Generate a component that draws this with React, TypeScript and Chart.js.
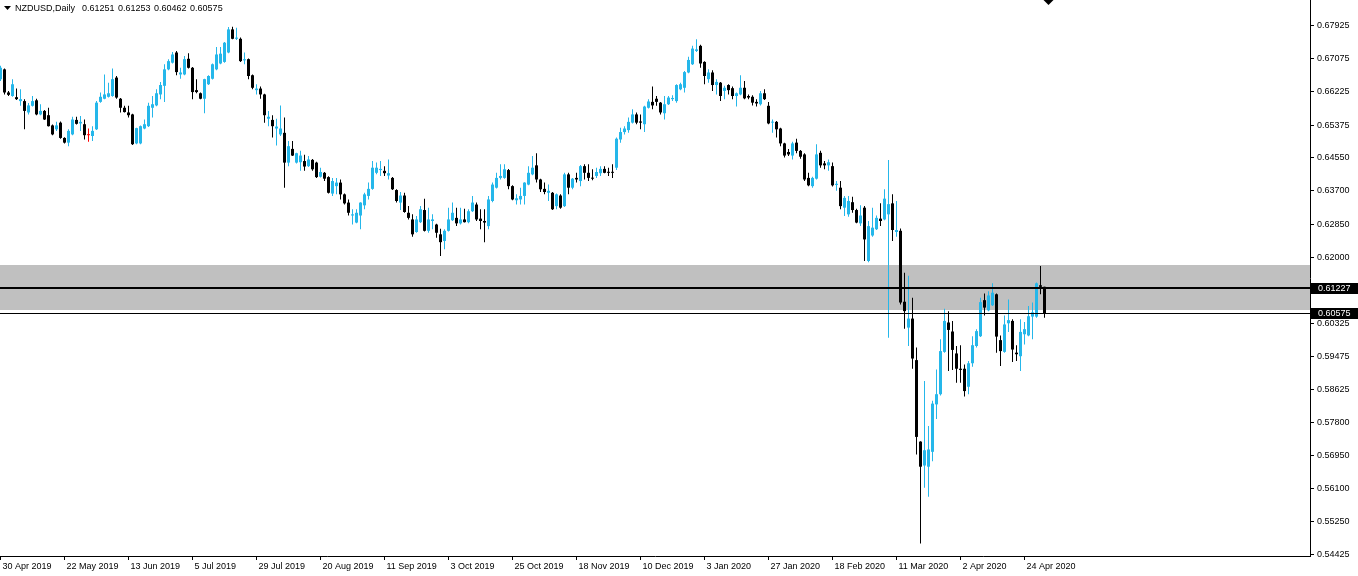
import React, { useEffect, useRef } from 'react';
import { Chart, registerables } from 'chart.js';

Chart.register(...registerables);

const symbolTitle = 'NZDUSD,Daily';
const lastQuote = ['0.61251', '0.61253', '0.60462', '0.60575'];

const dateLabels = [
  '30 Apr 2019', '22 May 2019', '13 Jun 2019', '5 Jul 2019', '29 Jul 2019', '20 Aug 2019',
  '11 Sep 2019', '3 Oct 2019', '25 Oct 2019', '18 Nov 2019', '10 Dec 2019', '3 Jan 2020',
  '27 Jan 2020', '18 Feb 2020', '11 Mar 2020', '2 Apr 2020', '24 Apr 2020',
];
const barsPerDateLabel = 16;

const priceTicks = [
  0.67925, 0.67075, 0.66225, 0.65375, 0.6455, 0.637, 0.6285, 0.62,
  0.60325, 0.59475, 0.58625, 0.578, 0.5695, 0.561, 0.5525, 0.54425,
];

const opens = [
  0.6655,0.6680,0.6621,0.6612,0.6609,0.6599,0.6599,0.6570,0.6587,0.6601,
  0.6565,0.6574,0.6563,0.6537,0.6527,0.6544,0.6505,0.6493,0.6514,0.6551,
  0.6542,0.6540,0.6512,0.6510,0.6527,0.6597,0.6605,0.6610,0.6612,0.6659,
  0.6605,0.6582,0.6570,0.6565,0.6491,0.6491,0.6529,0.6535,0.6582,0.6588,
  0.6616,0.6638,0.6680,0.6697,0.6723,0.6667,0.6667,0.6707,0.6684,0.6627,
  0.6619,0.6605,0.6642,0.6656,0.6680,0.6695,0.6699,0.6723,0.6782,0.6758,
  0.6758,0.6703,0.6706,0.6665,0.6627,0.6631,0.6616,0.6554,0.6551,0.6529,
  0.6514,0.6518,0.6442,0.6477,0.6442,0.6443,0.6446,0.6433,0.6449,0.6442,
  0.6406,0.6416,0.6405,0.6363,0.6382,0.6391,0.6361,0.6340,0.6307,0.6289,
  0.6307,0.6333,0.6357,0.6375,0.6416,0.6423,0.6421,0.6409,0.6403,0.6372,
  0.6340,0.6358,0.6314,0.6297,0.6265,0.6290,0.6321,0.6268,0.6293,0.6284,
  0.6259,0.6242,0.6268,0.6295,0.6301,0.6287,0.6297,0.6290,0.6318,0.6335,
  0.6299,0.6293,0.6280,0.6344,0.6378,0.6403,0.6403,0.6423,0.6382,0.6346,
  0.6348,0.6357,0.6386,0.6412,0.6435,0.6399,0.6375,0.6365,0.6365,0.6331,
  0.6358,0.6331,0.6412,0.6378,0.6403,0.6395,0.6433,0.6416,0.6403,0.6408,
  0.6415,0.6426,0.6418,0.6418,0.6429,0.6501,0.6520,0.6525,0.6544,0.6565,
  0.6547,0.6540,0.6582,0.6597,0.6605,0.6595,0.6568,0.6591,0.6604,0.6599,
  0.6629,0.6633,0.6672,0.6693,0.6727,0.6740,0.6699,0.6655,0.6672,0.6640,
  0.6646,0.6625,0.6640,0.6632,0.6612,0.6616,0.6633,0.6612,0.6610,0.6597,
  0.6591,0.6619,0.6587,0.6544,0.6546,0.6529,0.6491,0.6469,0.6460,0.6493,
  0.6472,0.6463,0.6403,0.6382,0.6401,0.6467,0.6440,0.6435,0.6433,0.6385,
  0.6378,0.6327,0.6310,0.6341,0.6321,0.6287,0.6327,0.6191,0.6256,0.6272,
  0.6299,0.6297,0.6310,0.6338,0.6265,0.6268,0.6087,0.6021,0.6044,0.5938,
  0.5730,0.5669,0.5666,0.5704,0.5825,0.5851,0.5959,0.6034,0.6011,0.5955,
  0.5916,0.5916,0.5870,0.5930,0.5974,0.5999,0.6091,0.6065,0.6078,0.6106,
  0.5989,0.5959,0.6032,0.6038,0.5957,0.5948,0.6004,0.6001,0.6049,0.6049,
  0.6129,0.61251,
];

const highs = [
  0.6689,0.6682,0.6625,0.6655,0.6631,0.6629,0.6604,0.6594,0.6612,0.6605,
  0.6591,0.6576,0.6582,0.6539,0.6546,0.6547,0.6507,0.6527,0.6559,0.6559,
  0.6561,0.6552,0.6529,0.6535,0.6599,0.6621,0.6667,0.6646,0.6682,0.6663,
  0.6607,0.6587,0.6587,0.6567,0.6531,0.6537,0.6552,0.6595,0.6612,0.6629,
  0.6648,0.6693,0.6706,0.6724,0.6727,0.6684,0.6714,0.6721,0.6686,0.6655,
  0.6621,0.6656,0.6665,0.6695,0.6737,0.6737,0.6750,0.6788,0.6789,0.6786,
  0.6761,0.6723,0.6708,0.6667,0.6642,0.6636,0.6618,0.6574,0.6563,0.6554,
  0.6588,0.6557,0.6497,0.6497,0.6467,0.6472,0.6462,0.6459,0.6451,0.6444,
  0.6429,0.6418,0.6407,0.6403,0.6403,0.6399,0.6363,0.6348,0.6323,0.6323,
  0.6341,0.6365,0.6391,0.6446,0.6442,0.6446,0.6433,0.6450,0.6405,0.6374,
  0.6367,0.6365,0.6331,0.6310,0.6306,0.6331,0.6350,0.6327,0.6310,0.6286,
  0.6273,0.6272,0.6327,0.6340,0.6327,0.6327,0.6324,0.6323,0.6357,0.6340,
  0.6323,0.6323,0.6357,0.6391,0.6416,0.6438,0.6438,0.6426,0.6384,0.6361,
  0.6378,0.6392,0.6433,0.6459,0.6466,0.6401,0.6391,0.6386,0.6367,0.6363,
  0.6361,0.6416,0.6416,0.6403,0.6416,0.6436,0.6438,0.6438,0.6425,0.6429,
  0.6433,0.6433,0.6429,0.6438,0.6506,0.6531,0.6535,0.6557,0.6578,0.6570,
  0.6565,0.6587,0.6604,0.6636,0.6612,0.6597,0.6612,0.6612,0.6614,0.6642,
  0.6646,0.6676,0.6712,0.6740,0.6757,0.6743,0.6701,0.6680,0.6678,0.6655,
  0.6648,0.6638,0.6642,0.6636,0.6621,0.6665,0.6650,0.6616,0.6614,0.6604,
  0.6625,0.6629,0.6597,0.6552,0.6548,0.6531,0.6493,0.6477,0.6495,0.6503,
  0.6474,0.6466,0.6416,0.6406,0.6489,0.6472,0.6446,0.6450,0.6442,0.6395,
  0.6395,0.6357,0.6357,0.6355,0.6324,0.6333,0.6331,0.6293,0.6327,0.6307,
  0.6338,0.6374,0.6449,0.6361,0.6344,0.6274,0.6161,0.6153,0.6097,0.5970,
  0.5731,0.5885,0.5770,0.5834,0.5914,0.5991,0.6069,0.6063,0.6038,0.5974,
  0.5976,0.5927,0.5936,0.5999,0.6017,0.6097,0.6108,0.6114,0.6134,0.6108,
  0.6001,0.6052,0.6093,0.6042,0.5976,0.6042,0.6035,0.6076,0.6085,0.6136,
  0.6178,0.61253,
];

const lows = [
  0.6650,0.6616,0.6612,0.6610,0.6602,0.6587,0.6527,0.6565,0.6585,0.6563,
  0.6563,0.6551,0.6534,0.6512,0.6523,0.6503,0.6491,0.6484,0.6512,0.6539,
  0.6523,0.6501,0.6495,0.6497,0.6525,0.6595,0.6604,0.6608,0.6610,0.6605,
  0.6570,0.6570,0.6557,0.6487,0.6489,0.6489,0.6527,0.6533,0.6557,0.6586,
  0.6604,0.6597,0.6678,0.6695,0.6665,0.6656,0.6665,0.6682,0.6604,0.6619,
  0.6604,0.6568,0.6640,0.6654,0.6678,0.6693,0.6697,0.6721,0.6757,0.6755,
  0.6699,0.6693,0.6655,0.6629,0.6616,0.6605,0.6544,0.6535,0.6506,0.6486,
  0.6510,0.6378,0.6433,0.6459,0.6440,0.6421,0.6421,0.6431,0.6421,0.6403,
  0.6404,0.6395,0.6363,0.6357,0.6361,0.6348,0.6335,0.6307,0.6284,0.6287,
  0.6272,0.6323,0.6348,0.6373,0.6412,0.6408,0.6408,0.6399,0.6372,0.6340,
  0.6321,0.6314,0.6297,0.6253,0.6263,0.6288,0.6266,0.6263,0.6272,0.6250,
  0.6204,0.6221,0.6266,0.6293,0.6280,0.6284,0.6289,0.6287,0.6316,0.6293,
  0.6272,0.6239,0.6272,0.6341,0.6376,0.6399,0.6401,0.6374,0.6346,0.6335,
  0.6335,0.6335,0.6384,0.6410,0.6391,0.6367,0.6361,0.6344,0.6321,0.6323,
  0.6324,0.6329,0.6361,0.6374,0.6391,0.6382,0.6399,0.6395,0.6397,0.6403,
  0.6408,0.6415,0.6408,0.6403,0.6423,0.6493,0.6514,0.6518,0.6542,0.6540,
  0.6527,0.6520,0.6580,0.6578,0.6587,0.6565,0.6552,0.6589,0.6599,0.6595,
  0.6627,0.6621,0.6670,0.6691,0.6724,0.6684,0.6642,0.6646,0.6625,0.6616,
  0.6599,0.6604,0.6616,0.6604,0.6585,0.6614,0.6604,0.6604,0.6588,0.6585,
  0.6588,0.6602,0.6540,0.6518,0.6506,0.6484,0.6455,0.6459,0.6450,0.6466,
  0.6452,0.6395,0.6382,0.6378,0.6399,0.6429,0.6425,0.6421,0.6381,0.6370,
  0.6323,0.6306,0.6304,0.6314,0.6287,0.6280,0.6191,0.6188,0.6253,0.6270,
  0.6280,0.6295,0.5995,0.6242,0.6253,0.6080,0.6018,0.5974,0.5916,0.5697,
  0.5470,0.5612,0.5589,0.5680,0.5788,0.5848,0.5957,0.5910,0.5913,0.5880,
  0.5880,0.5845,0.5851,0.5921,0.5970,0.5997,0.6052,0.6063,0.6076,0.5957,
  0.5923,0.5957,0.6010,0.5933,0.5936,0.5910,0.5978,0.5999,0.5991,0.6046,
  0.6106,0.60462,
];

const closes = [
  0.6684,0.6621,0.6615,0.6642,0.6604,0.6604,0.6574,0.6588,0.6599,0.6565,
  0.6574,0.6552,0.6535,0.6514,0.6537,0.6505,0.6493,0.6523,0.6552,0.6541,
  0.6546,0.6512,0.6512,0.6523,0.6595,0.6610,0.6616,0.6619,0.6655,0.6608,
  0.6582,0.6571,0.6563,0.6489,0.6530,0.6535,0.6540,0.6587,0.6591,0.6619,
  0.6640,0.6680,0.6701,0.6718,0.6673,0.6672,0.6706,0.6684,0.6622,0.6622,
  0.6605,0.6655,0.6663,0.6693,0.6718,0.6720,0.6748,0.6782,0.6758,0.6761,
  0.6701,0.6706,0.6663,0.6633,0.6631,0.6616,0.6563,0.6559,0.6535,0.6534,
  0.6529,0.6442,0.6484,0.6460,0.6466,0.6460,0.6432,0.6450,0.6425,0.6405,
  0.6418,0.6401,0.6365,0.6395,0.6391,0.6361,0.6338,0.6314,0.6310,0.6314,
  0.6340,0.6361,0.6375,0.6429,0.6429,0.6426,0.6415,0.6415,0.6374,0.6344,
  0.6358,0.6316,0.6301,0.6259,0.6297,0.6323,0.6268,0.6297,0.6297,0.6263,
  0.6239,0.6268,0.6297,0.6314,0.6287,0.6297,0.6290,0.6318,0.6340,0.6297,
  0.6293,0.6289,0.6348,0.6386,0.6403,0.6408,0.6425,0.6382,0.6348,0.6351,
  0.6357,0.6391,0.6416,0.6429,0.6399,0.6374,0.6367,0.6370,0.6323,0.6361,
  0.6327,0.6412,0.6378,0.6401,0.6399,0.6433,0.6416,0.6403,0.6401,0.6418,
  0.6426,0.6416,0.6416,0.6416,0.6503,0.6520,0.6529,0.6546,0.6565,0.6544,
  0.6544,0.6585,0.6598,0.6588,0.6597,0.6570,0.6591,0.6608,0.6607,0.6640,
  0.6642,0.6673,0.6704,0.6733,0.6731,0.6695,0.6663,0.6672,0.6640,0.6648,
  0.6612,0.6633,0.6627,0.6612,0.6619,0.6633,0.6606,0.6608,0.6595,0.6593,
  0.6619,0.6604,0.6542,0.6546,0.6527,0.6491,0.6460,0.6463,0.6491,0.6472,
  0.6457,0.6399,0.6384,0.6403,0.6463,0.6435,0.6435,0.6443,0.6384,0.6388,
  0.6331,0.6352,0.6344,0.6321,0.6289,0.6307,0.6246,0.6280,0.6276,0.6301,
  0.6293,0.6350,0.6336,0.6270,0.6270,0.6085,0.6063,0.6044,0.5942,0.5742,
  0.5666,0.5708,0.5710,0.5827,0.5851,0.5961,0.6038,0.6015,0.5964,0.5916,
  0.5913,0.5859,0.5930,0.5976,0.6012,0.6086,0.6072,0.6103,0.6110,0.5998,
  0.5961,0.6029,0.6040,0.5965,0.5953,0.6010,0.6017,0.6050,0.6060,0.6134,
  0.6125,0.60575,
];

const zoneTop = 0.61811;
const zoneBottom = 0.60663;
const levelLine = 0.61227;
const bidLine = 0.60575;

const priceMin = 0.54381;
const priceMax = 0.6857;
const barSlots = 327.5;

const BULL = '#25b7ea';
const BEAR = '#000000';
const DOJI = '#ff0000';
const FONT = '"Liberation Sans", Arial, sans-serif';

const candleColors = opens.map((o, i) =>
  closes[i] > o ? BULL : closes[i] < o ? BEAR : DOJI
);

const overlayPlugin = {
  id: 'mtOverlay',
  beforeDatasetsDraw(chart: any) {
    const { ctx, chartArea: a, scales } = chart;
    const y = scales.y;
    ctx.save();
    const t = y.getPixelForValue(zoneTop);
    const b = y.getPixelForValue(zoneBottom);
    ctx.fillStyle = '#c0c0c0';
    ctx.fillRect(a.left, Math.round(t), a.right - a.left, Math.round(b) - Math.round(t));
    ctx.restore();
  },
  afterDatasetsDraw(chart: any) {
    const { ctx, chartArea: a, scales } = chart;
    const y = scales.y;
    ctx.save();
    ctx.fillStyle = '#000';
    const ly = Math.round(y.getPixelForValue(levelLine));
    ctx.fillRect(a.left, ly - 1, a.right - a.left, 2);
    const by = Math.round(y.getPixelForValue(bidLine));
    ctx.fillRect(a.left, by, a.right - a.left, 1);
    ctx.restore();
  },
  afterDraw(chart: any) {
    const { ctx, chartArea: a, scales } = chart;
    const y = scales.y;
    const x = scales.x;
    ctx.save();
    ctx.font = `9px ${FONT}`;
    ctx.textBaseline = 'middle';
    ctx.textAlign = 'left';
    // price label boxes
    [levelLine, bidLine].forEach((v) => {
      const py = Math.round(y.getPixelForValue(v));
      ctx.fillStyle = '#000';
      ctx.fillRect(a.right + 1, py - 5, 47, 11);
      ctx.fillStyle = '#fff';
      ctx.fillText(v.toFixed(5), a.right + 8, py + 0.5);
    });
    // header
    ctx.fillStyle = '#000';
    ctx.beginPath();
    ctx.moveTo(4, 6);
    ctx.lineTo(11, 6);
    ctx.lineTo(7.5, 10);
    ctx.closePath();
    ctx.fill();
    let hx = 15;
    ctx.fillText(symbolTitle, hx, 8.5);
    hx += ctx.measureText(symbolTitle).width + 7;
    lastQuote.forEach((q) => {
      ctx.fillText(q, hx, 8.5);
      hx += ctx.measureText(q).width + 3.5;
    });
    // shift marker at next bar slot
    const mx = x.getPixelForValue(closes.length);
    ctx.beginPath();
    ctx.moveTo(mx - 5, 0);
    ctx.lineTo(mx + 5, 0);
    ctx.lineTo(mx, 5);
    ctx.closePath();
    ctx.fill();
    ctx.restore();
  },
};

export default function App() {
  const ref = useRef<HTMLCanvasElement | null>(null);

  useEffect(() => {
    document.body.style.margin = '0';
    const canvas = ref.current;
    if (!canvas) return;

    const wickData = opens.map((_, i) => ({ x: i, y: [lows[i], highs[i]] }));
    const bodyData = opens.map((o, i) => ({
      x: i,
      y: [Math.min(o, closes[i]), Math.max(o, closes[i])],
    }));

    const chart = new Chart(canvas, {
      type: 'bar',
      data: {
        datasets: [
          {
            label: 'wicks',
            data: wickData as any,
            backgroundColor: candleColors,
            borderWidth: 0,
            barThickness: 1,
            grouped: false,
            inflateAmount: 0,
          } as any,
          {
            label: 'bodies',
            data: bodyData as any,
            backgroundColor: candleColors,
            borderWidth: 0,
            barThickness: 3,
            grouped: false,
            inflateAmount: 0,
            minBarLength: 1,
          } as any,
        ],
      },
      options: {
        animation: false,
        responsive: false,
        devicePixelRatio: 1,
        events: [],
        layout: { padding: 0 },
        plugins: {
          legend: { display: false },
          tooltip: { enabled: false },
          title: { display: false },
        },
        scales: {
          x: {
            type: 'linear',
            min: -0.125,
            max: barSlots - 0.125,
            offset: false,
            grid: {
              display: true,
              drawOnChartArea: false,
              drawTicks: true,
              tickLength: 4,
              color: '#000',
              offset: false,
            },
            border: { display: true, color: '#000', width: 1 },
            ticks: {
              autoSkip: false,
              maxRotation: 0,
              minRotation: 0,
              align: 'start',
              labelOffset: 2,
              padding: 1,
              color: '#000',
              font: { family: FONT, size: 9 },
              callback: (v: any) => dateLabels[Math.round(Number(v) / barsPerDateLabel)] ?? '',
            },
            afterBuildTicks: (s: any) => {
              s.ticks = dateLabels.map((_, j) => ({ value: j * barsPerDateLabel }));
            },
            afterFit: (s: any) => {
              s.height = 20;
              s.paddingLeft = 0;
              s.paddingRight = 0;
            },
          },
          y: {
            type: 'linear',
            position: 'right',
            min: priceMin,
            max: priceMax,
            beginAtZero: false,
            grid: {
              display: true,
              drawOnChartArea: false,
              drawTicks: true,
              tickLength: 4,
              color: '#000',
            },
            border: { display: true, color: '#000', width: 1 },
            ticks: {
              padding: 3,
              color: '#000',
              font: { family: FONT, size: 9 },
              callback: (v: any) => Number(v).toFixed(5),
            },
            afterBuildTicks: (s: any) => {
              s.ticks = priceTicks.map((v) => ({ value: v }));
            },
            afterFit: (s: any) => {
              s.width = 48;
              s.paddingTop = 0;
              s.paddingBottom = 0;
            },
          },
        },
      } as any,
      plugins: [overlayPlugin],
    });

    return () => chart.destroy();
  }, []);

  return (
    <div style={{ width: 1358, height: 576, background: '#fff', position: 'relative' }}>
      <canvas ref={ref} width={1358} height={576} style={{ display: 'block', width: 1358, height: 576 }} />
    </div>
  );
}
